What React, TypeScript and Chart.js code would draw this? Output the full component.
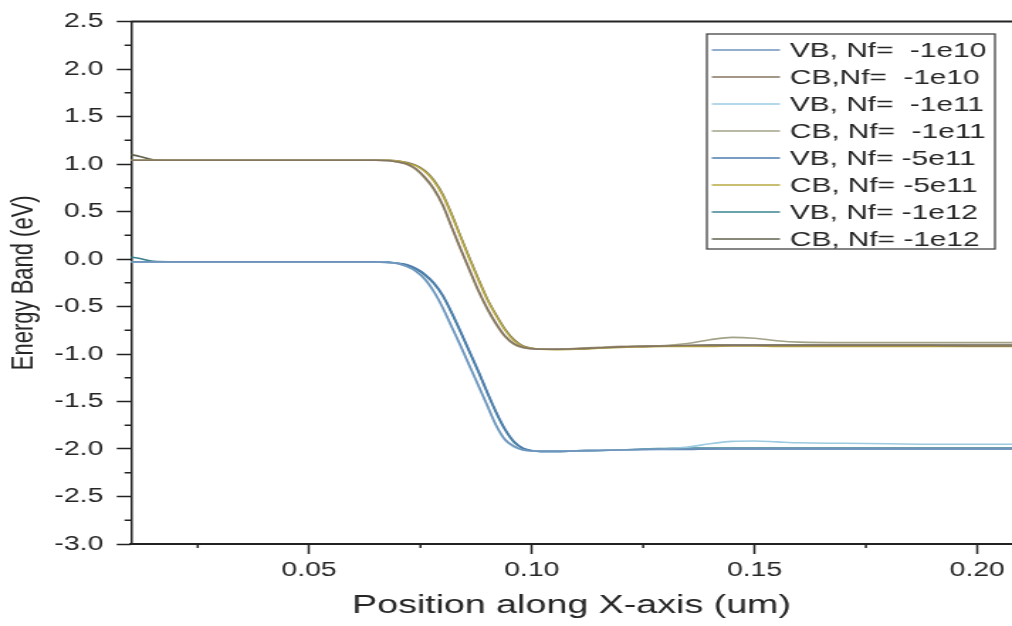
import React, { useEffect, useRef } from "react";
import { Chart, registerables } from "chart.js";

Chart.register(...registerables);

// ---------- data ----------
const X = [
  0.01, 0.012, 0.015, 0.02, 0.03, 0.04, 0.05, 0.06, 0.065,
  0.068, 0.07, 0.072, 0.074, 0.076, 0.078, 0.08, 0.082,
  0.084, 0.086, 0.088, 0.09, 0.092, 0.094, 0.096, 0.098,
  0.1, 0.102, 0.105, 0.11, 0.115, 0.12, 0.125, 0.13,
  0.135, 0.14, 0.145, 0.15, 0.155, 0.16, 0.17,
  0.18, 0.19, 0.2, 0.208,
];

const VB_1E10 = [
  -0.03, -0.03, -0.03, -0.03, -0.03, -0.03, -0.03, -0.03, -0.03,
  -0.04, -0.05, -0.08, -0.13, -0.21, -0.34, -0.51, -0.71,
  -0.91, -1.12, -1.33, -1.54, -1.75, -1.9, -1.97, -2.01,
  -2.02, -2.025, -2.025, -2.02, -2.015, -2.01, -2.005, -2.0,
  -2.0, -2.0, -1.995, -1.995, -1.995, -1.995, -1.995,
  -1.995, -1.995, -1.995, -1.995,
];
const CB_1E10 = [
  1.04, 1.04, 1.04, 1.04, 1.04, 1.04, 1.04, 1.04, 1.04,
  1.035, 1.02, 1.0, 0.95, 0.86, 0.74, 0.57, 0.34,
  0.11, -0.11, -0.33, -0.52, -0.68, -0.81, -0.89, -0.93,
  -0.945, -0.95, -0.95, -0.945, -0.935, -0.925, -0.92, -0.915,
  -0.91, -0.91, -0.91, -0.91, -0.91, -0.91, -0.91,
  -0.91, -0.91, -0.915, -0.915,
];
const VB_1E11 = [
  -0.03, -0.03, -0.03, -0.03, -0.03, -0.03, -0.03, -0.03, -0.03,
  -0.04, -0.05, -0.08, -0.13, -0.22, -0.35, -0.52, -0.72,
  -0.92, -1.13, -1.34, -1.55, -1.76, -1.91, -1.98, -2.01,
  -2.02, -2.025, -2.025, -2.02, -2.015, -2.01, -2.005, -2.0,
  -1.98, -1.945, -1.92, -1.915, -1.925, -1.935, -1.94,
  -1.945, -1.95, -1.95, -1.95,
];
const CB_1E11 = [
  1.04, 1.04, 1.04, 1.04, 1.04, 1.04, 1.04, 1.04, 1.04,
  1.035, 1.02, 0.995, 0.94, 0.85, 0.73, 0.56, 0.33,
  0.1, -0.12, -0.34, -0.53, -0.69, -0.82, -0.9, -0.935,
  -0.945, -0.95, -0.95, -0.94, -0.93, -0.92, -0.915, -0.91,
  -0.89, -0.85, -0.825, -0.835, -0.86, -0.875, -0.88,
  -0.88, -0.88, -0.88, -0.88,
];
const VB_5E11 = [
  -0.03, -0.03, -0.03, -0.03, -0.03, -0.03, -0.03, -0.03, -0.03,
  -0.035, -0.045, -0.06, -0.1, -0.16, -0.25, -0.38, -0.56,
  -0.76, -0.97, -1.18, -1.4, -1.61, -1.79, -1.92, -1.99,
  -2.015, -2.025, -2.025, -2.02, -2.015, -2.01, -2.005, -2.005,
  -2.005, -2.0, -2.0, -2.0, -2.0, -2.0, -2.0,
  -2.0, -2.0, -2.0, -2.0,
];
const CB_5E11 = [
  1.04, 1.04, 1.04, 1.04, 1.04, 1.04, 1.04, 1.04, 1.04,
  1.04, 1.03, 1.01, 0.98, 0.92, 0.82, 0.67, 0.46,
  0.23, 0.0, -0.22, -0.43, -0.6, -0.75, -0.86, -0.92,
  -0.94, -0.95, -0.955, -0.95, -0.94, -0.93, -0.925, -0.92,
  -0.92, -0.92, -0.915, -0.915, -0.92, -0.92, -0.92,
  -0.92, -0.92, -0.92, -0.92,
];
const VB_1E12 = [
  0.02, 0.005, -0.025, -0.03, -0.03, -0.03, -0.03, -0.03, -0.03,
  -0.035, -0.045, -0.065, -0.11, -0.17, -0.26, -0.39, -0.57,
  -0.77, -0.98, -1.19, -1.41, -1.62, -1.8, -1.93, -1.995,
  -2.02, -2.025, -2.025, -2.02, -2.015, -2.01, -2.0, -1.995,
  -1.99, -1.99, -1.99, -1.99, -1.99, -1.99, -1.99,
  -1.99, -1.99, -1.99, -1.99,
];
const CB_1E12 = [
  1.1, 1.08, 1.045, 1.04, 1.04, 1.04, 1.04, 1.04, 1.04,
  1.04, 1.03, 1.015, 0.985, 0.93, 0.83, 0.68, 0.47,
  0.24, 0.01, -0.21, -0.42, -0.59, -0.74, -0.85, -0.915,
  -0.94, -0.95, -0.95, -0.945, -0.935, -0.925, -0.92, -0.915,
  -0.91, -0.905, -0.905, -0.905, -0.905, -0.905, -0.905,
  -0.905, -0.905, -0.905, -0.905,
];

const SERIES = [VB_1E10, CB_1E10, VB_1E11, CB_1E11, VB_5E11, CB_5E11, VB_1E12, CB_1E12];
const LABELS = [
  "VB, Nf=  -1e10",
  "CB,Nf=  -1e10",
  "VB, Nf=  -1e11",
  "CB, Nf=  -1e11",
  "VB, Nf= -5e11",
  "CB, Nf= -5e11",
  "VB, Nf= -1e12",
  "CB, Nf= -1e12",
];
const COLORS = [
  "#6f93bb",
  "#857560",
  "#9ccbe0",
  "#a3a287",
  "#4d7cae",
  "#b8a842",
  "#3a8390",
  "#62624f",
];

const X_TICKS = [0.05, 0.1, 0.15, 0.2];
const X_MINOR = [0.025, 0.075, 0.125, 0.175];
const Y_MINOR = [2.25, 1.75, 1.25, 0.75, 0.25, -0.25, -0.75, -1.25, -1.75, -2.25, -2.75];

// ---------- layout ----------
const W = 713; // internal canvas width (stretched horizontally to 1012px)
const H = 626;
const FONT = '"Liberation Sans", Arial, sans-serif';
const TEXT = "#262626";

const framePlugin = {
  id: "frameAndMinor",
  afterDraw(chart: any) {
    const { ctx, chartArea } = chart;
    const xs = chart.scales.x;
    const ys = chart.scales.y;
    ctx.save();
    ctx.strokeStyle = "#222";
    ctx.lineWidth = 2;
    ctx.beginPath();
    ctx.moveTo(chartArea.left, chartArea.top);
    ctx.lineTo(chartArea.right, chartArea.top);
    ctx.stroke();
    ctx.lineWidth = 1.5;
    X_MINOR.forEach((v) => {
      const px = xs.getPixelForValue(v);
      ctx.beginPath();
      ctx.moveTo(px, chartArea.bottom);
      ctx.lineTo(px, chartArea.bottom + 4);
      ctx.stroke();
    });
    Y_MINOR.forEach((v) => {
      const py = ys.getPixelForValue(v);
      ctx.beginPath();
      ctx.moveTo(chartArea.left, py);
      ctx.lineTo(chartArea.left - 4.5, py);
      ctx.stroke();
    });
    // legend box
    const bx = 498, by = 34, bw = 203, bh = 215;
    ctx.fillStyle = "#fff";
    ctx.fillRect(bx, by, bw, bh);
    ctx.strokeStyle = "#444";
    ctx.lineWidth = 1.3;
    ctx.strokeRect(bx, by, bw, bh);
    ctx.font = `21px ${FONT}`;
    ctx.textBaseline = "middle";
    ctx.textAlign = "left";
    chart.data.datasets.forEach((ds: any, i: number) => {
      const y = 50 + i * 27;
      ctx.strokeStyle = ds.borderColor;
      ctx.lineWidth = 1.5;
      ctx.beginPath();
      ctx.moveTo(501.5, y);
      ctx.lineTo(549.5, y);
      ctx.stroke();
      ctx.fillStyle = TEXT;
      ctx.fillText(ds.label, 556.5, y + 1);
    });
    ctx.restore();
  },
};

export default function App() {
  const ref = useRef<HTMLCanvasElement | null>(null);

  useEffect(() => {
    if (!ref.current) return;
    const chart = new Chart(ref.current, {
      type: "line",
      data: {
        datasets: SERIES.map((s, i) => ({
          label: LABELS[i],
          data: X.map((x, j) => ({ x, y: s[j] })),
          borderColor: COLORS[i],
          backgroundColor: COLORS[i],
          borderWidth: 1.6,
          pointRadius: 0,
          cubicInterpolationMode: "monotone" as const,
          fill: false,
        })),
      },
      options: {
        responsive: false,
        animation: false,
        devicePixelRatio: 1,
        layout: { padding: { left: 0, right: 0, top: 21, bottom: 0 } },
        plugins: {
          legend: { display: false },
          tooltip: { enabled: false },
        },
        scales: {
          x: {
            type: "linear",
            min: 0.01,
            max: 0.2078,
            afterBuildTicks: (s: any) => {
              s.ticks = X_TICKS.map((v) => ({ value: v }));
            },
            afterFit: (s: any) => {
              s.height = 82;
            },
            ticks: {
              callback: (v: any) => Number(v).toFixed(2),
              font: { size: 20, family: FONT },
              color: TEXT,
              padding: 4,
              maxRotation: 0,
            },
            grid: {
              display: true,
              drawOnChartArea: false,
              drawTicks: true,
              tickLength: 10,
              tickWidth: 1.5,
              tickColor: "#222",
            },
            border: { display: true, color: "#222", width: 2 },
            title: {
              display: true,
              text: "Position along X-axis (um)",
              font: { size: 26.5, family: FONT },
              color: TEXT,
              padding: { top: 0, bottom: 4 },
            },
          },
          y: {
            type: "linear",
            min: -3,
            max: 2.5,
            ticks: {
              stepSize: 0.5,
              callback: (v: any) => Number(v).toFixed(1),
              font: { size: 20, family: FONT },
              color: TEXT,
              padding: 9.5,
            },
            afterFit: (s: any) => {
              s.width = 92.25;
            },
            grid: {
              display: true,
              drawOnChartArea: false,
              drawTicks: true,
              tickLength: 10,
              tickWidth: 1.5,
              tickColor: "#222",
            },
            border: { display: true, color: "#222", width: 1.5 },
            title: {
              display: true,
              text: "Energy Band (eV)",
              font: { size: 22, family: FONT },
              color: TEXT,
              padding: { top: 4, bottom: 0 },
            },
          },
        },
      },
      plugins: [framePlugin],
    });
    return () => chart.destroy();
  }, []);

  return (
    <div style={{ position: "absolute", left: 0, top: 0, width: 1012, height: H, background: "#fff", overflow: "hidden" }}>
      <canvas ref={ref} width={W} height={H} style={{ width: "1012px", height: `${H}px`, display: "block" }} />
    </div>
  );
}
